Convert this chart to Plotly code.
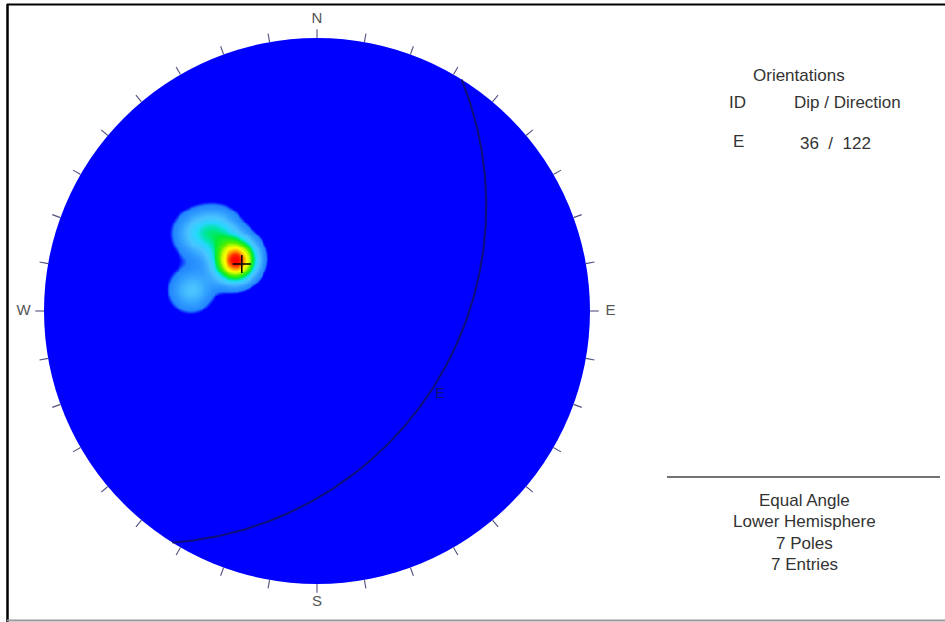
import numpy as np
import plotly.graph_objects as go

# ---------------- data ----------------
plane_ids = ["E"]
plane_dips = [36]
plane_dipdirs = [122]

pole_trends = [302.7, 306.4, 300.8, 298.1, 302.5, 309.9, 279.5]
pole_plunges = [49.8, 51.9, 52.8, 50.7, 34.6, 39.8, 39.9]

panel_title = "Orientations"
panel_headers = ["ID", "Dip / Direction"]
panel_footer = ["Equal Angle", "Lower Hemisphere", "7 Poles", "7 Entries"]
compass_labels = ["N", "E", "S", "W"]
compass_azimuths = [0, 90, 180, 270]

# ---------------- helpers ----------------
W, H = 945, 622
CX, CY, R = 317.0, 311.0, 273.0   # circle centre / radius in pixels
XR = [(0 - CX) / R, (W - CX) / R]
YR = [(CY - H) / R, (CY - 0) / R]


def proj(trend, plunge):
    t = np.radians(np.asarray(trend, float))
    p = np.radians(np.asarray(plunge, float))
    r = np.tan((np.pi / 2 - p) / 2)
    return r * np.sin(t), r * np.cos(t)


def vec(trend, plunge):
    t = np.radians(np.asarray(trend, float))
    p = np.radians(np.asarray(plunge, float))
    return np.stack([np.cos(p) * np.sin(t), np.cos(p) * np.cos(t), np.sin(p)], -1)


def px2paper(px, py):
    return px / W, 1 - py / H


fig = go.Figure()

# ---------------- density contours ----------------
gx = np.linspace(-0.72, 0.02, 220)
gy = np.linspace(-0.14, 0.50, 190)
GX, GY = np.meshgrid(gx, gy)
rr = np.hypot(GX, GY)
g_pl = 90 - 2 * np.degrees(np.arctan(rr))
g_tr = np.degrees(np.arctan2(GX, GY))
gv = vec(g_tr, g_pl)
pv = vec(pole_trends, pole_plunges)
kappa = 120.0
dens = np.zeros_like(GX)
for v in pv:
    c = np.abs(gv @ v)
    dens += np.exp(kappa * (c - 1))
zmax = float(dens.max())

# colour stops relative to the density maximum
cs = [
    [0.00, "rgb(0,0,255)"],
    [0.075, "rgb(0,0,255)"],
    [0.105, "rgb(35,135,255)"],
    [0.18, "rgb(50,160,255)"],
    [0.27, "rgb(75,195,255)"],
    [0.36, "rgb(40,215,255)"],
    [0.42, "rgb(0,230,170)"],
    [0.47, "rgb(0,235,60)"],
    [0.58, "rgb(80,240,0)"],
    [0.67, "rgb(200,250,0)"],
    [0.76, "rgb(255,255,0)"],
    [0.86, "rgb(255,150,0)"],
    [0.94, "rgb(255,40,0)"],
    [1.00, "rgb(255,0,0)"],
]
fig.add_trace(go.Heatmap(x=gx, y=gy, z=dens, zmin=0, zmax=zmax, colorscale=cs,
                         zsmooth="best", showscale=False, hoverinfo="skip"))

# ---------------- great circle ----------------
for pid, dip, dd in zip(plane_ids, plane_dips, plane_dipdirs):
    strike = dd - 90
    s = np.array([np.sin(np.radians(strike)), np.cos(np.radians(strike)), 0.0])
    d = np.array([np.sin(np.radians(dd)) * np.cos(np.radians(dip)),
                  np.cos(np.radians(dd)) * np.cos(np.radians(dip)),
                  np.sin(np.radians(dip))])
    t = np.radians(np.linspace(0, 180, 361))
    lv = np.outer(np.cos(t), s) + np.outer(np.sin(t), d)
    l_pl = np.degrees(np.arcsin(np.clip(lv[:, 2], -1, 1)))
    l_tr = np.degrees(np.arctan2(lv[:, 0], lv[:, 1]))
    gxs, gys = proj(l_tr, l_pl)
    fig.add_trace(go.Scatter(x=gxs, y=gys, mode="lines",
                             line=dict(color="rgb(15,15,120)", width=2),
                             hoverinfo="skip", showlegend=False))
    mx, my = proj([dd], [dip])
    fig.add_trace(go.Scatter(x=mx + 0.018, y=my - 0.035, mode="text", text=[pid],
                             textfont=dict(color="rgb(15,15,120)", size=14,
                                           family="Liberation Sans, Arial"),
                             hoverinfo="skip", showlegend=False))
    # pole of plane
    px_, py_ = proj([dd + 180], [90 - dip])
    fig.add_trace(go.Scatter(x=px_, y=py_, mode="markers",
                             marker=dict(symbol="cross-thin", size=13,
                                         line=dict(color="black", width=1.5)),
                             hoverinfo="skip", showlegend=False))

# ---------------- ticks ----------------
az = np.radians(np.arange(0, 360, 10))
tx, ty = [], []
for a in az:
    tx += [np.sin(a), 1.032 * np.sin(a), None]
    ty += [np.cos(a), 1.032 * np.cos(a), None]
fig.add_trace(go.Scatter(x=tx, y=ty, mode="lines",
                         line=dict(color="rgb(80,80,130)", width=1.1),
                         hoverinfo="skip", showlegend=False))

# compass labels
lx = [1.075 * np.sin(np.radians(a)) for a in compass_azimuths]
ly = [1.068 * np.cos(np.radians(a)) for a in compass_azimuths]
fig.add_trace(go.Scatter(x=lx, y=ly, mode="text", text=compass_labels,
                         textfont=dict(color="#555", size=15, family="Liberation Sans, Arial"),
                         hoverinfo="skip", showlegend=False))

# ---------------- shapes ----------------
shapes = [
    dict(type="circle", xref="x", yref="y", x0=-1, x1=1, y0=-1, y1=1,
         fillcolor="rgb(0,0,255)", line=dict(width=0), layer="below"),
    # frame
    dict(type="line", xref="paper", yref="paper", x0=7 / W, x1=1, y0=1 - 4.5 / H, y1=1 - 4.5 / H,
         line=dict(color="black", width=2)),
    dict(type="line", xref="paper", yref="paper", x0=7.5 / W, x1=7.5 / W, y0=0, y1=1 - 4 / H,
         line=dict(color="black", width=2.5)),
    dict(type="line", xref="paper", yref="paper", x0=7 / W, x1=1, y0=1 - 620.5 / H, y1=1 - 620.5 / H,
         line=dict(color="#999", width=2)),
    # panel separator
    dict(type="line", xref="paper", yref="paper", x0=667 / W, x1=940 / W,
         y0=1 - 477 / H, y1=1 - 477 / H, line=dict(color="#444", width=1.3)),
]

# ---------------- annotations ----------------
font = dict(family="Liberation Sans, Arial", size=17, color="#333")
ann = []


def add_text(txt, px, py):
    x, y = px2paper(px, py)
    ann.append(dict(text=txt, x=x, y=y, xref="paper", yref="paper", showarrow=False,
                    xanchor="center", yanchor="middle", font=font))


add_text(panel_title, 799, 75)
add_text(panel_headers[0], 737, 102)
add_text(panel_headers[1], 847, 102)
for i, (pid, dip, dd) in enumerate(zip(plane_ids, plane_dips, plane_dipdirs)):
    add_text(pid, 738, 142 + 30 * i)
    add_text(f"{dip}\u00a0\u00a0/\u00a0\u00a0{dd}", 835, 143 + 30 * i)
for i, line in enumerate(panel_footer):
    add_text(line, 804, 500 + 21.5 * i)

fig.update_layout(
    width=W, height=H, margin=dict(l=0, r=0, t=0, b=0),
    paper_bgcolor="white", plot_bgcolor="white",
    xaxis=dict(range=XR, visible=False, fixedrange=True),
    yaxis=dict(range=YR, visible=False, fixedrange=True),
    shapes=shapes, annotations=ann, showlegend=False,
)
fig.write_html("out.html", config={"displayModeBar": False},
               post_script="document.body.style.margin='0px';document.body.style.overflow='hidden';")
